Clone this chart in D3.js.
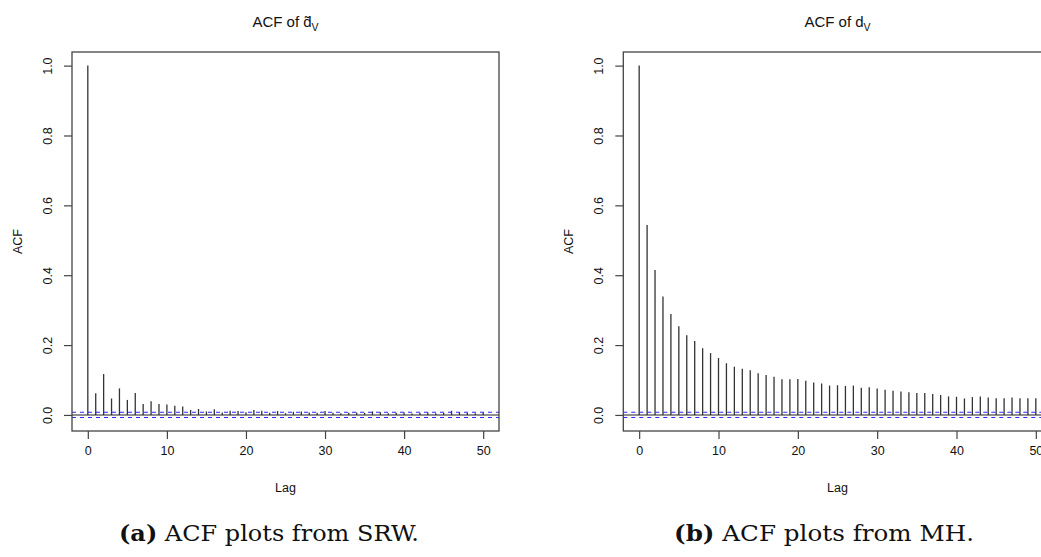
<!DOCTYPE html>
<html>
<meta charset="utf-8">
<style>
  body { margin: 0; background: #fff; }
  svg { display: block; }
  .tick-lab, .ax-lab, .ttl { font-family: "Liberation Sans", Arial, sans-serif; fill: #111; }
  .cap { font-family: "DejaVu Serif", serif; fill: #111; }
</style>
<body>
  <svg width="1041" height="557"></svg>
</body>

<script src="https://cdn.jsdelivr.net/npm/d3@7"></script>

<script>

  // lags 0..50
  var lags = d3.range(0, 51);

  // ACF values
  var acfSRW = [1.000, 0.062, 0.117, 0.047, 0.076, 0.043, 0.063, 0.031, 0.039, 0.031,
                0.030, 0.026, 0.024, 0.014, 0.017, 0.010, 0.016, 0.007, 0.012, 0.011,
                0.008, 0.014, 0.012, 0.006, 0.011, 0.005, 0.009, 0.010, 0.007, 0.006,
                0.011, 0.006, 0.005, 0.006, 0.007, 0.006, 0.010, 0.008, 0.005, 0.006,
                0.007, 0.004, 0.006, 0.007, 0.005, 0.006, 0.012, 0.008, 0.006, 0.005,
                0.008];

  var acfMH = [1.000, 0.544, 0.415, 0.339, 0.289, 0.254, 0.228, 0.212, 0.191, 0.177,
               0.163, 0.148, 0.138, 0.132, 0.128, 0.119, 0.114, 0.109, 0.102, 0.102,
               0.103, 0.098, 0.093, 0.090, 0.084, 0.085, 0.083, 0.084, 0.078, 0.079,
               0.076, 0.072, 0.069, 0.067, 0.065, 0.063, 0.063, 0.060, 0.057, 0.053,
               0.052, 0.047, 0.051, 0.053, 0.050, 0.048, 0.048, 0.050, 0.048, 0.048,
               0.048];

  var xTicks = [0, 10, 20, 30, 40, 50];
  var yTicks = [0.0, 0.2, 0.4, 0.6, 0.8, 1.0];
  var ciBand = 0.0075;   // blue dashed confidence limits

  var captions = [["(a)", " ACF plots from SRW."], ["(b)", " ACF plots from MH."]];

  var svg = d3.select("svg");

  var plotTop = 52, plotBottom = 431;

  //DRAW ONE ACF PANEL
  function drawPanel(left, right, values, titleSym, caption, capX){
    var g = svg.append("g");

    var xScale = d3.scaleLinear().domain([-2, 52]).range([left, right]);
    var yScale = d3.scaleLinear().domain([-0.046, 1.039]).range([plotBottom, plotTop]);

    // spikes
    g.selectAll("line.spike").data(lags).enter()
      .append("line")
      .attr("class", "spike")
      .attr("x1", function(d){ return xScale(d); })
      .attr("x2", function(d){ return xScale(d); })
      .attr("y1", yScale(0))
      .attr("y2", function(d){ return yScale(values[d]); })
      .attr("stroke", "#333")
      .attr("stroke-width", 1.3);

    // zero line
    g.append("line")
      .attr("x1", left).attr("x2", right)
      .attr("y1", yScale(0)).attr("y2", yScale(0))
      .attr("stroke", "#222").attr("stroke-width", 1.1);

    // confidence limits
    [ciBand, -ciBand].forEach(function(c){
      g.append("line")
        .attr("x1", left).attr("x2", right)
        .attr("y1", yScale(c)).attr("y2", yScale(c))
        .attr("stroke", "#2b2bff").attr("stroke-width", 1.1)
        .attr("stroke-dasharray", "4,4");
    });

    // box
    g.append("rect")
      .attr("x", left).attr("y", plotTop)
      .attr("width", right - left).attr("height", plotBottom - plotTop)
      .attr("fill", "none").attr("stroke", "#444").attr("stroke-width", 1.3);

    // x axis (R style: no domain line, ticks below box)
    var xAxis = d3.axisBottom(xScale).tickValues(xTicks).tickSize(8).tickPadding(7)
      .tickFormat(d3.format("d"));
    var gx = g.append("g").attr("transform", "translate(0," + plotBottom + ")").call(xAxis);
    gx.select(".domain").remove();
    gx.selectAll(".tick line").attr("stroke", "#444").attr("stroke-width", 1.2);
    gx.selectAll(".tick text").attr("class", "tick-lab").style("font-size", "12.5px")
      .attr("font-family", null).attr("fill", "#111");

    // y axis
    var yAxis = d3.axisLeft(yScale).tickValues(yTicks).tickSize(8).tickFormat(d3.format(".1f"));
    var gy = g.append("g").attr("transform", "translate(" + left + ",0)").call(yAxis);
    gy.select(".domain").remove();
    gy.selectAll(".tick line").attr("stroke", "#444").attr("stroke-width", 1.2);
    gy.selectAll(".tick text")
      .attr("class", "tick-lab").style("font-size", "12.5px")
      .attr("font-family", null).attr("fill", "#111")
      .attr("x", null).attr("dy", null)
      .attr("text-anchor", "middle")
      .attr("transform", "translate(-20,0) rotate(-90)");

    var cx = (left + right) / 2;

    // axis labels
    g.append("text").attr("class", "ax-lab")
      .attr("x", cx).attr("y", 492)
      .attr("text-anchor", "middle").style("font-size", "12.5px")
      .text("Lag");

    g.append("text").attr("class", "ax-lab")
      .attr("transform", "translate(" + (left - 50) + "," + ((plotTop + plotBottom) / 2) + ") rotate(-90)")
      .attr("text-anchor", "middle").style("font-size", "12.5px")
      .text("ACF");

    // title
    var t = g.append("text").attr("class", "ttl")
      .attr("x", cx).attr("y", 27)
      .attr("text-anchor", "middle").style("font-size", "15px");
    t.append("tspan").text("ACF of " + titleSym);
    t.append("tspan").attr("dy", 4).style("font-size", "10.5px").text("V");

    // caption
    var c = svg.append("text").attr("class", "cap")
      .attr("x", capX).attr("y", 541)
      .attr("text-anchor", "middle").style("font-size", "22.5px")
      .attr("textLength", 300).attr("lengthAdjust", "spacingAndGlyphs");
    c.append("tspan").attr("font-weight", "bold").text(caption[0]);
    c.append("tspan").text(caption[1]);
  }

  drawPanel(72, 499, acfSRW, "d\u0303", captions[0], 269);
  drawPanel(623.3, 1051.7, acfMH, "d", captions[1], 824);

</script>
</html>
